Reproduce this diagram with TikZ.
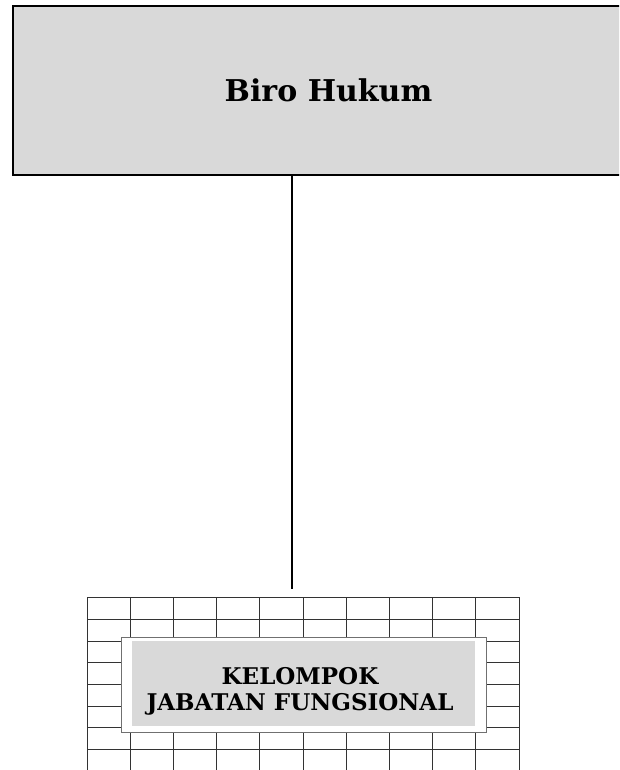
\documentclass[tikz,border=0pt]{standalone}
\usepackage{fontspec}
\setmainfont{DejaVu Serif}
\definecolor{boxgray}{HTML}{D9D9D9}
\definecolor{gridline}{HTML}{333333}
\definecolor{frameline}{HTML}{707070}
\tikzset{
  headbox/.style={draw=black, line width=1.7pt, fill=boxgray, minimum width=631pt, minimum height=169pt, inner sep=0pt,
    font=\fontsize{30}{36}\selectfont\bfseries},
  gridrule/.style={draw=gridline, line width=1pt},
  whiteframe/.style={draw=frameline, line width=1pt, fill=white, minimum width=365pt, minimum height=95pt, inner sep=0pt},
  grayfill/.style={fill=boxgray, minimum width=343pt, minimum height=85pt, inner sep=0pt},
  grouptext/.style={align=center, inner sep=0pt, font=\fontsize{23}{26}\selectfont\bfseries},
  connector/.style={draw=black, line width=2pt}
}
\begin{document}
\begin{tikzpicture}[x=1pt,y=-1pt]
\useasboundingbox (0,0) rectangle (619,770);
\clip (0,0) rectangle (619,770);
% head box
\node[headbox] (biro) at (328.5,90.5) {Biro Hukum};
% connector
\coordinate (lineend) at (292,589);
\draw[connector] (biro.south -| lineend) -- (lineend);
% grid
\foreach \i in {0,...,10} {
  \draw[gridrule] (87+\i*43.2,597) -- (87+\i*43.2,771);
}
\foreach \y in {597,619,641,662.5,684,706,727.5,749} {
  \draw[gridrule] (87,\y) -- (519,\y);
}
% boxes
\node[whiteframe] (frame) at (303.5,684.5) {};
\node[grayfill] (inner) at (303.5,683.5) {};
\node[grouptext] (kjf) at (300,691.5) {KELOMPOK\\JABATAN FUNGSIONAL};
\end{tikzpicture}
\end{document}
